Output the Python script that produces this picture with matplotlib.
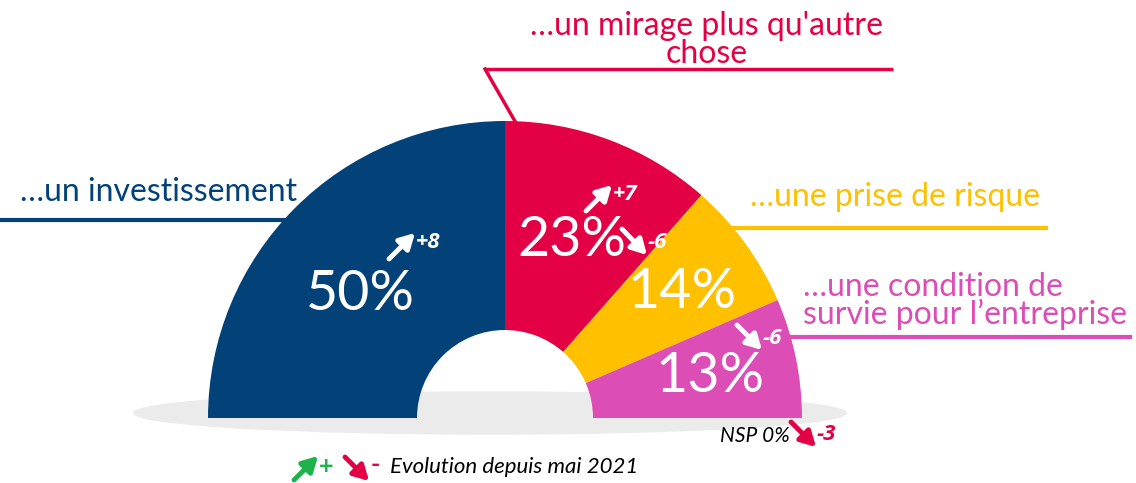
import matplotlib.pyplot as plt
from matplotlib.patches import Wedge, Ellipse

plt.rcParams['font.family'] = ['Lato', 'DejaVu Sans']

# data
labels = ["…un investissement", "…un mirage plus qu'autre\nchose",
          "…une prise de risque", "…une condition de\nsurvie pour l’entreprise"]
values = [50, 23, 14, 13]
deltas = [8, 7, -6, -6]
nsp_value = 0
nsp_delta = -3
colors = ["#024279", "#E40045", "#FFC000", "#DC4DB5"]

GREEN = "#1DB24A"
RED = "#E40045"

fig = plt.figure(figsize=(11.36, 4.83), dpi=100)
ax = fig.add_axes([0, 0, 1, 1])
ax.set_xlim(0, 1136)
ax.set_ylim(483, 0)
ax.axis('off')

cx, cy = 505, 418
r_out, r_in = 297, 88

ARROW = dict(arrowstyle='-|>,head_length=0.9,head_width=0.5', lw=3.5,
             shrinkA=0, shrinkB=0)
DFONT = dict(fontsize=16, fontweight='bold', style='italic',
             family=['Open Sans', 'DejaVu Sans'])

# shadow
ax.add_patch(Ellipse((490, 413), 712, 42, color="#EBEBEB", zorder=1))

# connector lines (under the wedges)
ax.plot([0, 300], [220, 220], color=colors[0], lw=3, zorder=2)
ax.plot([485, 893], [69, 69], color=colors[1], lw=2.5, zorder=2,
        solid_capstyle='butt')
ax.plot([485, 520], [69, 130], color=colors[1], lw=2.5, zorder=2)
ax.plot([700, 1046], [228, 228], color=colors[2], lw=3, zorder=2)
ax.plot([770, 1130], [337, 337], color=colors[3], lw=3, zorder=2)

# semicircle wedges
start = 180.0
total = sum(values) + nsp_value
for v, c in zip(values, colors):
    end = start - 180.0 * v / total
    ax.add_patch(Wedge((cx, cy), r_out, -start, -end, width=r_out - r_in,
                       facecolor=c, edgecolor='none', zorder=3))
    start = end

# percentage labels
pct_pos = [(360, 295), (572, 240), (682, 293), (710, 377)]
for v, (x, y) in zip(values, pct_pos):
    ax.text(x, y, f"{v}%", color='white', fontsize=40, ha='center',
            va='center', zorder=5)

# evolution arrows
arr_pos = [(389, 259, 415, 233), (586, 211, 612, 185),
           (622, 229, 647, 255), (737, 325, 762, 350)]
for d, (x0, y0, x1, y1) in zip(deltas, arr_pos):
    ax.annotate("", xy=(x1, y1), xytext=(x0, y0), zorder=6,
                arrowprops=dict(ARROW, color='white'))
    ty = y1 + 9 if d > 0 else y0 + 13
    ax.text(x1 + 1, ty, f"{d:+d}", color='white', ha='left', va='center',
            zorder=6, **DFONT)

# category labels
ax.text(20, 192, labels[0], color=colors[0], fontsize=23, ha='left', va='center')
ax.text(707, 40, labels[1], color=colors[1], fontsize=23, ha='center',
        va='center', linespacing=0.9)
ax.text(750, 197, labels[2], color=colors[2], fontsize=23, ha='left', va='center')
ax.text(803, 301, labels[3], color=colors[3], fontsize=23, ha='left',
        va='center', linespacing=0.9)

# NSP
ax.text(790, 436, f"NSP {nsp_value}%", color='black', fontsize=15,
        style='italic', ha='right', va='center')
ax.annotate("", xy=(816, 447), xytext=(791, 422),
            arrowprops=dict(ARROW, color=RED))
ax.text(817, 434, f"{nsp_delta:+d}", color=RED, ha='left', va='center',
        **DFONT)

# legend
ax.annotate("", xy=(318, 456), xytext=(294, 480),
            arrowprops=dict(ARROW, color=GREEN))
ax.text(319, 466, "+", color=GREEN, fontsize=18, fontweight='bold',
        ha='left', va='center')
ax.annotate("", xy=(369, 481), xytext=(345, 457),
            arrowprops=dict(ARROW, color=RED))
ax.text(371, 465, "-", color=RED, fontsize=18, fontweight='bold',
        ha='left', va='center')
ax.text(390, 467, "Evolution depuis mai 2021", color='black', fontsize=16,
        style='italic', ha='left', va='center')

fig.savefig("out.png", dpi=100)
